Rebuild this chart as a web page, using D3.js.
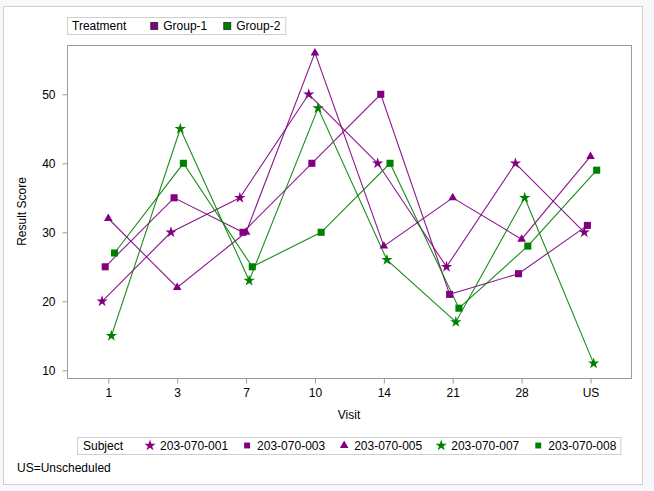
<!DOCTYPE html>
<html lang="en">
<head>
<meta charset="UTF-8">
<title>Result Score by Visit</title>
<script src="https://d3js.org/d3.v7.min.js"></script>
<style>
    body { margin: 0; background: #f7f8fc; }
    svg text { font-family: Arial, "Liberation Sans", sans-serif; font-size: 12px; fill: #000; }
</style>
</head>
<body>
<svg id="chart" width="654" height="491"></svg>
<script>
// categories
const visits = ["1", "3", "7", "10", "14", "21", "28", "US"];
const yTicks = [10, 20, 30, 40, 50];

// subjects and their treatment group
const subjects = ["203-070-001", "203-070-003", "203-070-005", "203-070-007", "203-070-008"];
const subjectGroup = ["Group-1", "Group-1", "Group-1", "Group-2", "Group-2"];
const groups = ["Group-1", "Group-2"];

// result score per subject, one value per visit
const s001 = [20, 30, 35, 50, 40, 25, 40, 30];
const s003 = [25, 35, 30, 40, 50, 21, 24, 31];
const s005 = [32, 22, 30, 56, 28, 35, 29, 41];
const s007 = [15, 45, 23, 48, 26, 17, 35, 11];
const s008 = [27, 40, 25, 30, 40, 19, 28, 39];
const scores = [s001, s003, s005, s007, s008];

const groupColor = { "Group-1": "#800080", "Group-2": "#008000" };
const subjectSymbol = [d3.symbolStar, d3.symbolSquare, d3.symbolTriangle, d3.symbolStar, d3.symbolSquare];
const symbolSize = { star: 40, square: 50, triangle: 32 };
function sizeOf(sym) {
    return sym === d3.symbolStar ? symbolSize.star : sym === d3.symbolSquare ? symbolSize.square : symbolSize.triangle;
}

const svg = d3.select("#chart");

// outer white panel
svg.append("rect")
    .attr("x", 3.5).attr("y", 6.5)
    .attr("width", 639).attr("height", 478)
    .attr("fill", "#fff").attr("stroke", "#cfcfcf");

const plot = { left: 67, right: 631, top: 45, bottom: 378 };

const x = d3.scalePoint().domain(visits).range([108.3, 590.5]);
const y = d3.scaleLinear().domain([10, 50]).range([370.3, 94.3]);
const clusterStep = 3.1;
const offset = i => (i - (subjects.length - 1) / 2) * clusterStep;

// plot frame
svg.append("rect")
    .attr("x", plot.left + 0.5).attr("y", plot.top + 0.5)
    .attr("width", plot.right - plot.left).attr("height", plot.bottom - plot.top)
    .attr("fill", "none").attr("stroke", "#9c9c9c");

// Y axis
const yAxis = svg.append("g")
    .attr("transform", `translate(${plot.left + 0.5},0)`)
    .call(d3.axisLeft(y).tickValues(yTicks).tickSize(5).tickPadding(7));
yAxis.select(".domain").remove();
yAxis.selectAll(".tick line").attr("stroke", "#9c9c9c");
yAxis.selectAll("text").style("font-size", "12px").attr("fill", "#000");

// X axis
const xAxis = svg.append("g")
    .attr("transform", `translate(0,${plot.bottom + 0.5})`)
    .call(d3.axisBottom(x).tickSize(5).tickPadding(5));
xAxis.select(".domain").remove();
xAxis.selectAll(".tick line").attr("stroke", "#9c9c9c");
xAxis.selectAll("text").style("font-size", "12px").attr("fill", "#000");

// axis labels
svg.append("text")
    .attr("transform", `translate(26,${(plot.top + plot.bottom) / 2})rotate(-90)`)
    .attr("text-anchor", "middle")
    .text("Result Score");
svg.append("text")
    .attr("x", (plot.left + plot.right) / 2).attr("y", 419)
    .attr("text-anchor", "middle")
    .text("Visit");

// lines
const line = (i) => d3.line()
    .x((d, k) => x(visits[k]) + offset(i))
    .y(d => y(d));

subjects.forEach((s, i) => {
    svg.append("path")
        .datum(scores[i])
        .attr("d", line(i))
        .attr("fill", "none")
        .attr("stroke", groupColor[subjectGroup[i]])
        .attr("stroke-width", 1.1)
        .attr("stroke-opacity", 0.9);
});

// markers
subjects.forEach((s, i) => {
    const sym = subjectSymbol[i];
    svg.append("g").selectAll("path")
        .data(scores[i])
        .join("path")
        .attr("transform", (d, k) => `translate(${x(visits[k]) + offset(i)},${y(d)})`)
        .attr("d", d3.symbol().type(sym).size(sizeOf(sym)))
        .attr("fill", groupColor[subjectGroup[i]]);
});

// top legend (Treatment)
const topLeg = svg.append("g");
const topBox = topLeg.append("rect")
    .attr("x", plot.left + 0.5).attr("y", 17.5).attr("height", 17)
    .attr("fill", "#fff").attr("stroke", "#cfcfcf");
let tx = plot.left + 5;
const tTitle = topLeg.append("text").attr("x", tx).attr("y", 30).text("Treatment");
tx += tTitle.node().getComputedTextLength() + 28;
groups.forEach((g, i) => {
    topLeg.append("rect")
        .attr("x", tx - 3.5).attr("y", 22.5)
        .attr("width", 7).attr("height", 7)
        .attr("fill", groupColor[g]).attr("stroke", "#222").attr("stroke-width", 0.8);
    const t = topLeg.append("text").attr("x", tx + 9).attr("y", 30).text(g);
    tx += 9 + t.node().getComputedTextLength() + (i < groups.length - 1 ? 20 : 5);
});
topBox.attr("width", tx - plot.left);

// bottom legend (Subject), centred under the plot
const botLeg = svg.append("g");
const botBox = botLeg.append("rect")
    .attr("y", 437.5).attr("height", 17)
    .attr("fill", "#fff").attr("stroke", "#cfcfcf");
let bx = 0;
const bTitle = botLeg.append("text").attr("x", bx + 6).attr("y", 450).text("Subject");
bx += 6 + bTitle.node().getComputedTextLength() + 27;
subjects.forEach((s, i) => {
    const sym = subjectSymbol[i];
    botLeg.append("path")
        .attr("transform", `translate(${bx},${445.5})`)
        .attr("d", d3.symbol().type(sym).size(sizeOf(sym) * (sym === d3.symbolSquare ? 0.7 : 1)))
        .attr("fill", groupColor[subjectGroup[i]]);
    const t = botLeg.append("text").attr("x", bx + 10).attr("y", 450).text(s);
    bx += 10 + t.node().getComputedTextLength() + (i < subjects.length - 1 ? 19 : 4);
});
botBox.attr("x", 0.5).attr("width", bx);
const legLeft = Math.round((plot.left + plot.right) / 2 - bx / 2);
botLeg.attr("transform", `translate(${legLeft},0)`);

// footnote
svg.append("text").attr("x", 17).attr("y", 472).text("US=Unscheduled");
</script>
</body>
</html>
